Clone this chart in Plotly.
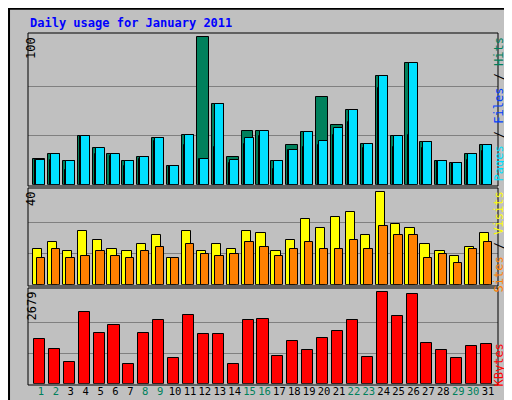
import plotly.graph_objects as go

# ----------------------------------- Data -----------------------------------

days = list(range(1, 32))
weekend_days = [1, 2, 8, 9, 15, 16, 22, 23, 29, 30]

hits = [17.4, 20.8, 15.8, 33, 24.9, 20.8, 15.8, 18.8, 31.7, 12.7, 33.7, 100, 54.8, 18.8, 36.4, 36.4,
        15.8, 26.9, 35.7, 59.5, 40.5, 50.7, 27.6, 73.8, 33, 82.6, 29, 15.8, 14.7, 20.8, 26.9]
pages = [16.7, 20.8, 15.8, 33, 24.9, 20.8, 15.8, 18.8, 31.7, 12.7, 33.7, 17.4, 54.8, 16.7, 31.7, 36.4,
         15.8, 23.5, 35.7, 29.6, 38.5, 50.7, 27.6, 73.8, 33, 82.6, 29, 15.8, 14.7, 20.8, 26.9]
files = [16.7, 16.7, 10, 33, 20.8, 19.5, 12.7, 17.4, 29.6, 12.7, 26.9, 17.4, 25.6, 14.7, 27.6, 33,
         10.6, 23.5, 25.6, 26.9, 33.7, 42.5, 24.9, 65.6, 25.6, 33.7, 24.9, 15.8, 14.7, 16.7, 22.9]

visits = [15.3, 18.3, 14.4, 23.1, 19.2, 15.3, 14.4, 17.5, 21.4, 11.4, 23.1, 14.4, 17.5, 15.3, 23.1, 22.2,
          14.4, 19.2, 28.3, 24.4, 29.2, 31.3, 21.4, 40, 26.1, 24.4, 17.5, 14.4, 12.3, 16.2, 22.2]
sites = [11.4, 15.3, 11.4, 12.3, 14.4, 12.3, 11.4, 14.4, 16.2, 11.4, 17.5, 13.1, 12.3, 13.1, 18.3, 16.2,
         12.3, 15.3, 18.3, 15.3, 15.3, 19.2, 15.3, 25.3, 21.4, 21.4, 11.4, 13.1, 9.2, 15.3, 18.3]

kbytes = [1300, 1007, 626, 2092, 1476, 1721, 567, 1476, 1858, 743, 2004, 1447, 1447, 567, 1858, 1887,
          802, 1242, 978, 1330, 1535, 1858, 772, 2679, 1975, 2620, 1183, 978, 743, 1095, 1154]

# ----------------------------------- Figure -----------------------------------

line = dict(color='black', width=1)
fig = go.Figure()

fig.add_trace(go.Bar(x=days, y=hits, width=0.8, offset=-0.54, marker=dict(color='#00805C', line=line), yaxis='y'))
fig.add_trace(go.Bar(x=days, y=files, width=0.4, offset=-0.4, marker=dict(color='#0040FF', line=line), yaxis='y'))
fig.add_trace(go.Bar(x=days, y=pages, width=0.6, offset=-0.33, marker=dict(color='#00E0FF', line=line), yaxis='y'))

fig.add_trace(go.Bar(x=days, y=visits, width=0.62, offset=-0.54, marker=dict(color='#FFFF00', line=line), yaxis='y2'))
fig.add_trace(go.Bar(x=days, y=sites, width=0.56, offset=-0.29, marker=dict(color='#FF8000', line=line), yaxis='y2'))

fig.add_trace(go.Bar(x=days, y=kbytes, width=0.74, offset=-0.47, marker=dict(color='#FF0000', line=line), yaxis='y3'))

grid = dict(showgrid=True, gridcolor='#808080', gridwidth=1, showticklabels=False, zeroline=False,
            ticks='', fixedrange=True)
xr = [0.13, 31.67]
ticktext = ["<span style='color:#00805C'>%d</span>" % d if d in weekend_days else str(d) for d in days]

fig.update_layout(
    width=512, height=400,
    margin=dict(l=0, r=0, t=0, b=0),
    paper_bgcolor='#C0C0C0', plot_bgcolor='#C0C0C0',
    barmode='overlay', showlegend=False, bargap=0,
    font=dict(family='DejaVu Sans Mono', size=12, color='black'),
    xaxis=dict(domain=[20 / 512, 490 / 512], range=xr, tickvals=days, ticktext=ticktext, tickangle=0,
               showgrid=False, zeroline=False, ticks='', tickfont=dict(size=10.5), anchor='y3'),
    yaxis=dict(domain=[1 - 176.7 / 400, 1 - 25 / 400], range=[0, 103], tickvals=[33.3, 66.7], **grid),
    yaxis2=dict(domain=[1 - 276.7 / 400, 1 - 181 / 400], range=[0, 41.4], tickvals=[13.3, 26.7], **grid),
    yaxis3=dict(domain=[1 - 375.7 / 400, 1 - 280 / 400], range=[0, 2805], tickvals=[893, 1786], **grid),
)

# panel frames and outer border
shapes = [
    dict(type='rect', xref='paper', yref='paper', x0=0.002, y0=0.002, x1=0.998, y1=0.998,
         line=dict(color='black', width=2)),
    dict(type='rect', xref='paper', yref='paper', x0=506 / 512, y0=0.004, x1=0.996, y1=0.99,
         fillcolor='#808080', line=dict(width=0)),
    dict(type='rect', xref='paper', yref='paper', x0=0.01, y0=0.004, x1=0.996, y1=5 / 400,
         fillcolor='#808080', line=dict(width=0)),
]
for top, bot in [(25, 178), (180, 278), (280, 377)]:
    shapes.append(dict(type='rect', xref='paper', yref='paper', x0=20 / 512, x1=490 / 512,
                       y0=1 - bot / 400, y1=1 - top / 400, line=dict(color='black', width=1)))
fig.update_layout(shapes=shapes)

ann = [
    dict(text='<b>Daily usage for January 2011</b>', x=20 / 512, y=1 - 15 / 400, xanchor='left',
         yanchor='middle', font=dict(color='#0000FF', size=12)),
    dict(text='100', x=14 / 512, y=1 - 27 / 400, textangle=-90, yanchor='top'),
    dict(text='40', x=14 / 512, y=1 - 182 / 400, textangle=-90, yanchor='top'),
    dict(text='2679', x=14 / 512, y=1 - 282 / 400, textangle=-90, yanchor='top'),
    dict(text="<span style='color:#00E0FF'>Pages</span> / <span style='color:#0040FF'>Files</span> / "
              "<span style='color:#00805C'>Hits</span>",
         x=499 / 512, y=1 - 27 / 400, textangle=-90, yanchor='top'),
    dict(text="<span style='color:#FF8000'>Sites</span> / <span style='color:#FFFF00'>Visits</span>",
         x=499 / 512, y=1 - 182 / 400, textangle=-90, yanchor='top'),
    dict(text="<span style='color:#FF0000'>KBytes</span>",
         x=499 / 512, y=1 - 334 / 400, textangle=-90, yanchor='top'),
]
for a in ann:
    a.update(xref='paper', yref='paper', showarrow=False)
    a.setdefault('font', dict(size=12))
fig.update_layout(annotations=ann)

fig.write_html("out.html")
